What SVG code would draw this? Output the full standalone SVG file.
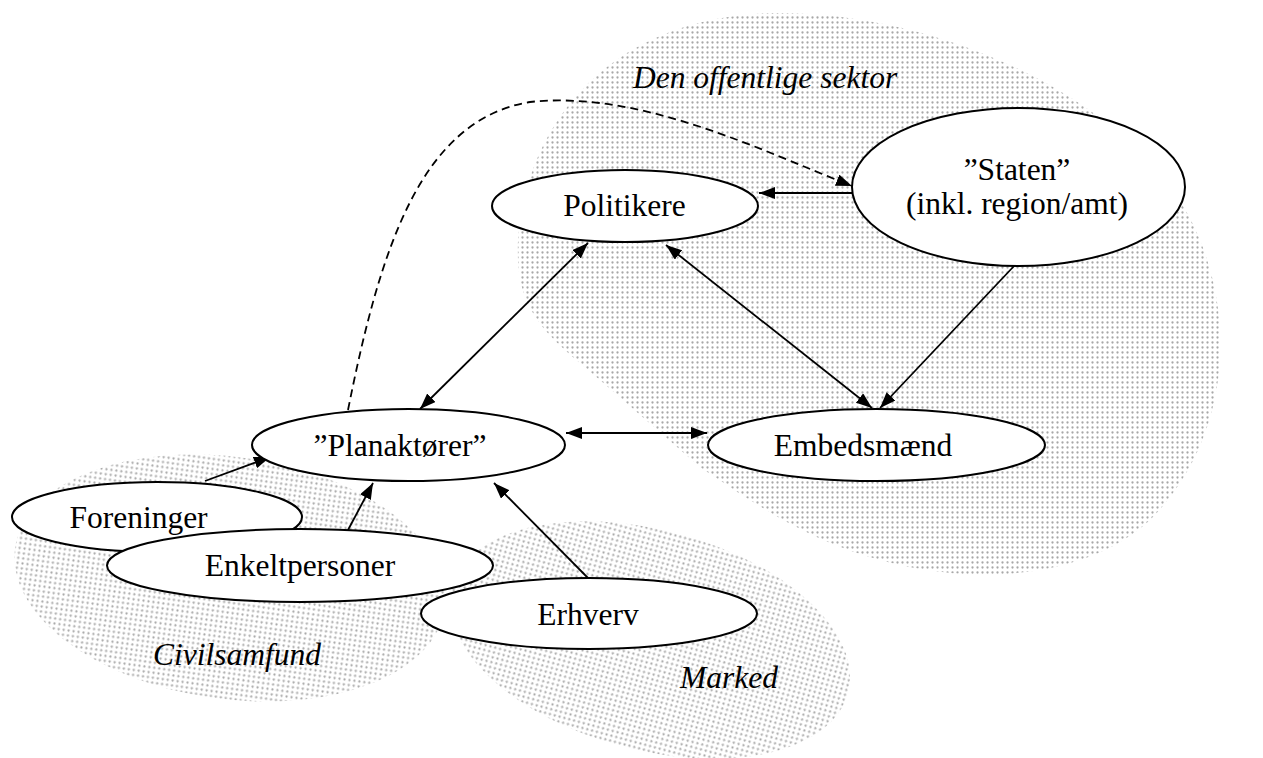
<svg xmlns="http://www.w3.org/2000/svg" width="1263" height="758" viewBox="0 0 1263 758">
  <defs>
    <pattern id="dots" width="5" height="5" patternUnits="userSpaceOnUse">
      <circle cx="2.5" cy="2.5" r="1.15" fill="#a8a8a8"/>
    </pattern>
    <marker id="head" viewBox="0 0 16 12" refX="16" refY="6" markerWidth="16" markerHeight="12" markerUnits="userSpaceOnUse" orient="auto-start-reverse">
      <path d="M0,0 L16,6 L0,12 Z" fill="#000"/>
    </marker>
    <style>
      .zone { fill: url(#dots); stroke: none; }
      .node ellipse { fill: #fff; stroke: #000; stroke-width: 2; }
      .label { font-family: "Liberation Serif", "Times New Roman", serif; font-size: 31.5px; fill: #000; text-anchor: middle; }
      .zone-label { font-family: "Liberation Serif", "Times New Roman", serif; font-size: 31.5px; font-style: italic; fill: #000; }
      .link { fill: none; stroke: #000; stroke-width: 1.8; }
      .one { marker-end: url(#head); }
      .both { marker-start: url(#head); marker-end: url(#head); }
      .dashed { stroke-dasharray: 8 5; }
    </style>
  </defs>

  <rect width="1263" height="758" fill="#fff"/>

  <!-- shaded sectors -->
  <g id="sectors">
    <path id="sector-public" class="zone" d="M 770,13 C 950,10 1150,110 1200,240 C 1240,340 1220,450 1150,520 C 1090,575 990,585 900,565 C 810,545 750,500 700,467 L 600,380 C 560,345 520,320 518,260 C 515,160 580,20 770,13 Z"/>
    <ellipse id="sector-civil" class="zone" cx="230" cy="578" rx="217" ry="121" transform="rotate(8 230 578)"/>
    <ellipse id="sector-market" class="zone" cx="650" cy="640" rx="205" ry="110" transform="rotate(15 650 640)"/>
    <text class="zone-label" x="633" y="88">Den offentlige sektor</text>
    <text class="zone-label" x="153" y="665">Civilsamfund</text>
    <text class="zone-label" x="680" y="688">Marked</text>
  </g>

  <!-- connectors -->
  <g id="connectors">
    <path class="link one dashed" d="M 348,410 C 380,250 420,120 530,102 C 640,90 760,150 852,186"/>
    <line class="link one" x1="852" y1="193" x2="759" y2="193"/>
    <line class="link both" x1="588" y1="243" x2="420" y2="409"/>
    <line class="link both" x1="666" y1="245" x2="872" y2="408"/>
    <line class="link one" x1="1015" y1="265" x2="880" y2="408"/>
    <line class="link both" x1="566" y1="433" x2="707" y2="433"/>
    <line class="link one" x1="205" y1="481" x2="270" y2="457"/>
    <line class="link one" x1="348" y1="530" x2="373" y2="483"/>
    <line class="link one" x1="588" y1="578" x2="494" y2="483"/>
  </g>

  <!-- nodes -->
  <g id="node-politikere" class="node">
    <ellipse cx="625" cy="206" rx="133" ry="36"/>
    <text class="label" x="624.5" y="216">Politikere</text>
  </g>
  <g id="node-staten" class="node">
    <ellipse cx="1018.5" cy="187" rx="166.5" ry="79"/>
    <text class="label" x="1017" y="179.5">”Staten”</text>
    <text class="label" x="1017" y="213.5">(inkl. region/amt)</text>
  </g>
  <g id="node-embedsmaend" class="node">
    <ellipse cx="876.5" cy="445" rx="168.5" ry="36"/>
    <text class="label" x="863" y="456">Embedsmænd</text>
  </g>
  <g id="node-planaktoerer" class="node">
    <ellipse cx="408.5" cy="445" rx="156.5" ry="36"/>
    <text class="label" x="400" y="456">”Planaktører”</text>
  </g>
  <g id="node-foreninger" class="node">
    <ellipse cx="157" cy="517" rx="145" ry="35"/>
    <text class="label" x="138.5" y="528">Foreninger</text>
  </g>
  <g id="node-enkeltpersoner" class="node">
    <ellipse cx="300" cy="565.5" rx="193" ry="36.5"/>
    <text class="label" x="300" y="576">Enkeltpersoner</text>
  </g>
  <g id="node-erhverv" class="node">
    <ellipse cx="589" cy="613.5" rx="168" ry="35.5"/>
    <text class="label" x="588" y="625">Erhverv</text>
  </g>
</svg>
